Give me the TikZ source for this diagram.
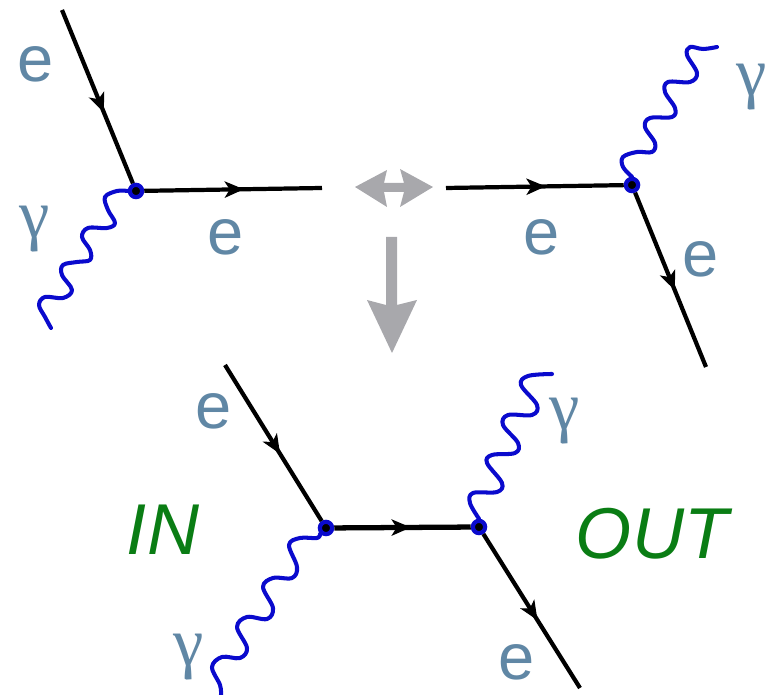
\documentclass[tikz,border=0pt]{standalone}
\usepackage{fontspec}
\setmainfont{Liberation Sans}
\newfontfamily\serifgreek{Liberation Serif}
\usetikzlibrary{arrows.meta,decorations.markings}
\definecolor{labelblue}{RGB}{96,135,165}
\definecolor{wavyblue}{RGB}{10,10,205}
\definecolor{inkgreen}{RGB}{10,125,20}
\definecolor{bigarrow}{RGB}{168,168,172}
\begin{document}
\begin{tikzpicture}[
  x=0.02cm,y=-0.02cm,
  >=Stealth,
  vertex/.style={circle,draw=wavyblue,fill=black,line width=2.4pt,inner sep=0pt,minimum size=7pt},
  fermion/.style={line width=2.4pt,postaction={decorate,decoration={markings,
    mark=at position #1 with {\arrow[line width=0.6pt]{Stealth[length=11pt,width=9.5pt,inset=3pt]}}}}},
  photon/.style={draw=wavyblue,line width=2.3pt,line cap=round,line join=round,smooth,tension=0.6},
  elabel/.style={text=labelblue,font=\fontsize{37}{37}\selectfont,inner sep=0pt},
  glabel/.style={text=labelblue,font=\serifgreek\fontsize{39}{39}\selectfont,inner sep=0pt},
  hand/.style={text=inkgreen,font=\fontsize{41}{41}\selectfont\itshape,inner sep=0pt}
]
\useasboundingbox (0,0) rectangle (779,695);
% top left
\node[vertex] (v1) at (136,191) {};
\coordinate (a1) at (62,10);
\coordinate (a2) at (322,188);
\draw[photon] plot coordinates {(v1.west) (117,191) (105,197) (108,210) (115,223) (107,228) (88,228)
  (82,237) (90,250) (90,260) (77,262) (63,265) (62,275) (72,290) (63,298) (45,297) (39,305) (45,317) (51,328)};
\draw[fermion=0.59] (a1) -- (v1);
\draw[fermion=0.56] (v1) -- (a2);
\node[elabel] (e1) at (36,64) {e};
\node[glabel] (g1) at (35,229) {γ};
\node[elabel] (e2) at (226,237) {e};
% top right
\node[vertex] (v2) at (632,185) {};
\coordinate (b1) at (446,188);
\coordinate (b2) at (706,367);
\draw[photon] plot coordinates {(v2.north) (623,167) (623,157) (637,152) (652,152) (655,143) (645,127) (650,118)
  (672,117) (675,108) (665,92) (668,82) (690,82) (697,73) (687,55) (690,47) (703,49) (717,47)};
\draw[fermion=0.56] (b1) -- (v2);
\draw[fermion=0.56] (v2) -- (b2);
\node[elabel] (e3) at (542,237) {e};
\node[elabel] (e4) at (701,259) {e};
\node[glabel] (g2) at (752,87) {γ};
% grey arrows
\fill[bigarrow] (355,187) -- (387,170) -- (384,183) -- (404,183) -- (400,169) -- (433,187)
  -- (400,207) -- (404,192) -- (384,192) -- (387,207) -- cycle;
\fill[bigarrow] (386,237) -- (397,237) -- (397,305) -- (417,300) -- (392,353) -- (367,300) -- (386,305) -- cycle;
% bottom
\node[vertex] (v3) at (326,528) {};
\node[vertex] (v4) at (479,527) {};
\coordinate (c1) at (225,365);
\coordinate (c2) at (580,688);
\draw[photon] plot coordinates {(v3.south west) (317,538) (300,538) (289,545) (297,567) (292,578) (273,578)
  (263,587) (273,608) (267,619) (247,617) (237,627) (247,648) (240,658) (222,657) (212,667) (220,685) (221,695)};
\draw[photon] plot coordinates {(v4.north) (470,503) (473,493) (497,492) (502,483) (487,463) (492,455) (515,453)
  (518,443) (503,425) (508,415) (532,415) (537,405) (521,385) (528,376) (552,374)};
\draw[fermion=0.57] (c1) -- (v3);
\draw[fermion=0.56,line width=3pt] (v3) -- (v4);
\draw[fermion=0.56] (v4) -- (c2);
\node[elabel] (e5) at (214,411) {e};
\node[elabel] (e6) at (517,662) {e};
\node[glabel] (g3) at (189,657) {γ};
\node[glabel] (g4) at (565,421) {γ};
\node[hand] (inlabel) at (163,530) {IN};
\node[hand] (outlabel) at (652,534) {OUT};
\end{tikzpicture}
\end{document}
